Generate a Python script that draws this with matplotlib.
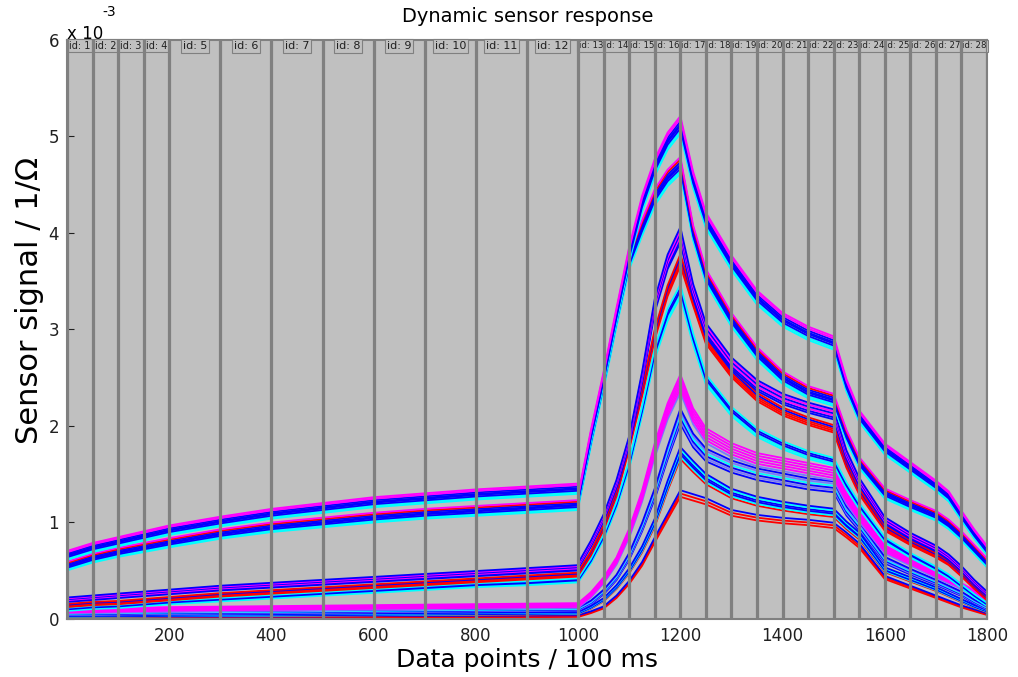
import matplotlib
matplotlib.use("Agg")
from matplotlib import pyplot as plt
from matplotlib.patches import Rectangle
from matplotlib.ticker import FixedLocator, FuncFormatter
import numpy as np

# sample positions (data points); 1000 appears twice because a new measurement starts there
x_pts = [1, 50, 100, 150, 200, 300, 400, 500, 600, 700, 800, 900, 1000,
         1000, 1025, 1050, 1075, 1100, 1125, 1150, 1175, 1200,
         1225, 1250, 1300, 1350, 1400, 1450, 1500,
         1525, 1550, 1600, 1650, 1700, 1725, 1750, 1775, 1800]

# sensor signal in units of 1e-3 / Ohm, one array per sensor group
grp1 = [0.66, 0.74, 0.80, 0.86, 0.92, 1.01, 1.09, 1.15, 1.21, 1.25, 1.29, 1.32, 1.35,
        1.23, 1.90, 2.50, 3.15, 3.78, 4.30, 4.68, 4.95, 5.12,
        4.55, 4.13, 3.69, 3.33, 3.10, 2.96, 2.86,
        2.42, 2.10, 1.76, 1.57, 1.38, 1.27, 1.07, 0.88, 0.71]
grp2 = [0.55, 0.63, 0.69, 0.74, 0.79, 0.88, 0.95, 1.00, 1.05, 1.09, 1.12, 1.15, 1.18,
        1.20, 1.85, 2.45, 3.10, 3.70, 4.05, 4.37, 4.57, 4.70,
        4.00, 3.55, 3.10, 2.75, 2.50, 2.35, 2.27,
        1.90, 1.62, 1.30, 1.18, 1.07, 0.98, 0.86, 0.72, 0.58]
grp3 = [0.20, 0.22, 0.24, 0.26, 0.28, 0.32, 0.35, 0.38, 0.41, 0.44, 0.47, 0.50, 0.53,
        0.55, 0.78, 1.05, 1.40, 1.85, 2.50, 3.25, 3.70, 3.98,
        3.40, 3.00, 2.65, 2.42, 2.28, 2.19, 2.12,
        1.70, 1.42, 1.02, 0.86, 0.73, 0.64, 0.52, 0.38, 0.26]
grp4 = [0.14, 0.16, 0.17, 0.19, 0.21, 0.25, 0.28, 0.31, 0.34, 0.37, 0.40, 0.43, 0.46,
        0.47, 0.68, 0.95, 1.30, 1.80, 2.35, 2.95, 3.40, 3.72,
        3.30, 2.90, 2.55, 2.30, 2.15, 2.05, 1.97,
        1.60, 1.32, 0.94, 0.79, 0.66, 0.58, 0.46, 0.33, 0.21]
grp5 = [0.10, 0.12, 0.13, 0.15, 0.17, 0.20, 0.23, 0.26, 0.29, 0.32, 0.35, 0.37, 0.40,
        0.40, 0.60, 0.85, 1.18, 1.60, 2.15, 2.75, 3.15, 3.40,
        2.90, 2.48, 2.15, 1.93, 1.80, 1.70, 1.63,
        1.38, 1.17, 0.82, 0.66, 0.52, 0.44, 0.34, 0.24, 0.15]
grp6 = [0.08, 0.085, 0.09, 0.095, 0.10, 0.105, 0.11, 0.115, 0.12, 0.125, 0.13, 0.135, 0.14,
        0.14, 0.25, 0.40, 0.60, 0.89, 1.27, 1.75, 2.15, 2.44,
        2.10, 1.90, 1.75, 1.65, 1.60, 1.55, 1.50,
        1.25, 1.06, 0.72, 0.59, 0.46, 0.40, 0.34, 0.27, 0.21]
grp7 = [0.05, 0.053, 0.056, 0.06, 0.063, 0.067, 0.07, 0.075, 0.08, 0.085, 0.09, 0.095, 0.10,
        0.10, 0.17, 0.28, 0.43, 0.65, 0.95, 1.30, 1.72, 2.10,
        1.85, 1.70, 1.58, 1.50, 1.45, 1.40, 1.37,
        1.12, 0.96, 0.61, 0.49, 0.38, 0.32, 0.26, 0.18, 0.11]
grp8 = [0.03, 0.031, 0.032, 0.033, 0.035, 0.037, 0.04, 0.043, 0.046, 0.05, 0.053, 0.056, 0.06,
        0.06, 0.12, 0.20, 0.33, 0.50, 0.72, 1.00, 1.38, 1.72,
        1.58, 1.45, 1.30, 1.22, 1.17, 1.13, 1.10,
        0.97, 0.86, 0.51, 0.41, 0.31, 0.25, 0.19, 0.13, 0.08]
grp9 = [0.01, 0.011, 0.012, 0.013, 0.014, 0.015, 0.017, 0.019, 0.021, 0.023, 0.025, 0.027, 0.03,
        0.03, 0.07, 0.12, 0.23, 0.38, 0.57, 0.82, 1.06, 1.30,
        1.26, 1.22, 1.10, 1.05, 1.02, 1.00, 0.97,
        0.87, 0.76, 0.43, 0.33, 0.23, 0.18, 0.13, 0.09, 0.05]

# spread of the single sensors inside each group (relative position, -1 = lowest)
spread1 = [-1.0, -0.7, -0.4, -0.1, 0.1, 0.4, 0.7, 1.0]
spread2 = [-1.0, -0.7, -0.4, -0.1, 0.1, 0.4, 0.7, 1.0]
spread3 = [-1.0, -0.6, -0.2, 0.2, 0.6, 1.0]
spread4 = [-1.0, -0.5, 0.0, 0.5, 1.0]
spread5 = [-1.0, -0.5, 0.0, 0.5, 1.0]
spread6 = [-1.0, -0.6, -0.2, 0.2, 0.6, 1.0]
spread7 = [-1.0, -0.6, -0.2, 0.2, 0.6, 1.0]
spread8 = [-1.0, -0.6, -0.2, 0.2, 0.6, 1.0]
spread9 = [-1.0, 0.0, 1.0]

B, C, M, R, P = "#0000ff", "#00ffff", "#ff00ff", "#ff0000", "#7878ff"
colors1 = [C, C, B, B, B, B, M, M]
colors2 = [C, C, B, B, B, B, R, M]
colors3 = [B, B, M, B, M, B]
colors4 = [R, R, R, B, R]
colors5 = [C, C, B, B, C]
colors6 = [P, M, M, M, M, M]
colors7 = [B, P, B, C, P, B]
colors8 = [R, C, B, B, C, B]
colors9 = [R, R, B]

# (values, spread, colours, relative width, absolute width)
groups = [
    (grp9, spread9, colors9, 0.02, 0.008),
    (grp8, spread8, colors8, 0.03, 0.010),
    (grp7, spread7, colors7, 0.03, 0.015),
    (grp6, spread6, colors6, 0.03, 0.020),
    (grp5, spread5, colors5, 0.015, 0.015),
    (grp4, spread4, colors4, 0.012, 0.015),
    (grp3, spread3, colors3, 0.015, 0.020),
    (grp2, spread2, colors2, 0.010, 0.040),
    (grp1, spread1, colors1, 0.010, 0.040),
]

# measurement boundaries
bounds = [1, 50, 100, 150, 200, 300, 400, 500, 600, 700, 800, 900, 1000,
          1050, 1100, 1150, 1200, 1250, 1300, 1350, 1400, 1450, 1500,
          1550, 1600, 1650, 1700, 1750, 1800]

SCALE = 1e-3

fig = plt.figure(figsize=(10.18, 6.77), dpi=100)
ax = fig.add_axes([0.0663, 0.0857, 0.9033, 0.8553])
ax.set_facecolor("#c0c0c0")

x = np.array(x_pts)
for vals, spread, cols, rel_w, abs_w in groups:
    v = np.array(vals)
    for k, col in zip(spread, cols):
        y = v * (1 + k * rel_w) + k * abs_w
        ax.plot(x, y * SCALE, color=col, lw=1.3, zorder=2, solid_joinstyle="round")

for b in bounds:
    ax.axvline(b, color="#808080", lw=2.3, zorder=5)

# id labels; the short measurements get a smaller font so the label fits
for i, (a, b) in enumerate(zip(bounds[:-1], bounds[1:])):
    fs = 8 if b - a > 60 else (7 if i < 9 else 6.2)
    t = ax.text((a + b) / 2, 5.94 * SCALE, f"id: {i + 1}", ha="center", va="center",
                fontsize=fs, color="#202020", zorder=4,
                bbox=dict(boxstyle="square,pad=0.18", fc="#c0c0c0", ec="#808080", lw=0.8))
    clip = Rectangle((a, 0), b - a, 1.05, transform=ax.get_xaxis_transform())
    t.set_clip_path(clip)

ax.set_xlim(1, 1800)
ax.set_ylim(0, 6 * SCALE)
ax.xaxis.set_major_locator(FixedLocator([200, 400, 600, 800, 1000, 1200, 1400, 1600, 1800]))
ax.yaxis.set_major_locator(FixedLocator([v * SCALE for v in range(7)]))
ax.yaxis.set_major_formatter(FuncFormatter(lambda v, pos: f"{v / SCALE:.0f}"))
ax.tick_params(direction="in", length=5, labelsize=12, colors="#202020", pad=6)
for sp in ax.spines.values():
    sp.set_color("#808080")
    sp.set_linewidth(1.5)

# exponent of the y axis
ax.annotate("x 10", xy=(0, 1), xycoords="axes fraction", xytext=(0, 1),
            textcoords="offset points", ha="left", va="baseline", fontsize=12)
ax.annotate("-3", xy=(0, 1), xycoords="axes fraction", xytext=(25, 17),
            textcoords="offset points", ha="left", va="baseline", fontsize=10)

ax.set_title("Dynamic sensor response", fontsize=14, pad=13)
ax.set_xlabel("Data points / 100 ms", fontsize=18, labelpad=2)
ax.set_ylabel("Sensor signal / 1/Ω", fontsize=22)
ax.yaxis.set_label_coords(-0.026, 0.55)

fig.savefig("out.png", dpi=100)
